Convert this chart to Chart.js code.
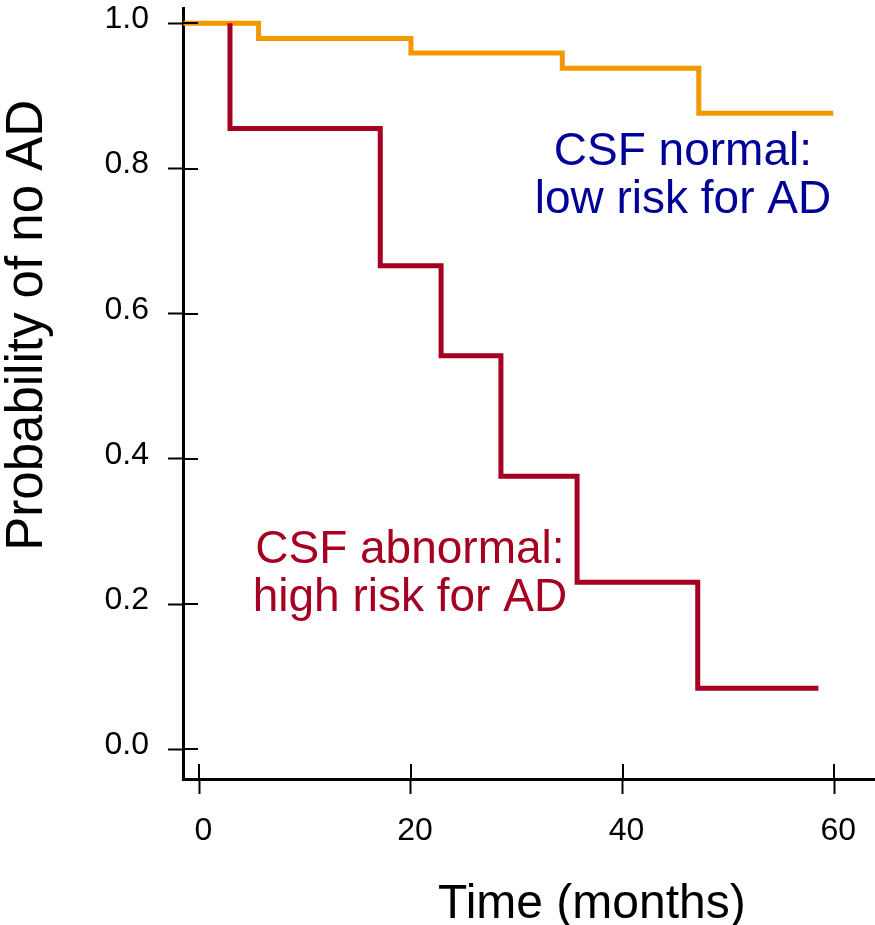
<!DOCTYPE html>
<html>
<head>
<meta charset="utf-8">
<script src="https://cdn.jsdelivr.net/npm/chart.js@4"></script>
<style>
  html, body { margin: 0; padding: 0; background: #ffffff; }
  #wrap { width: 875px; height: 925px; }
</style>
</head>
<body>
<div id="wrap"><canvas id="km-chart" width="875" height="925"></canvas></div>
<script>
// Kaplan-Meier estimates (time in months, probability of no AD)
const normalTimes = [-1.5, 5.6, 20.0, 34.3, 47.2, 59.9];
const normalValues = [1.0, 0.979, 0.959, 0.938, 0.876, 0.876];

const abnormalTimes = [2.9, 2.9, 17.1, 22.85, 28.5, 35.7, 47.1, 58.5];
const abnormalValues = [1.0, 0.855, 0.666, 0.542, 0.376, 0.230, 0.084, 0.084];

const xTicks = [0, 20, 40, 60];
const yTicks = [0.0, 0.2, 0.4, 0.6, 0.8, 1.0];

const xTitle = 'Time (months)';
const yTitle = 'Probability of no AD';

const normalLabel = ['CSF normal:', 'low risk for AD'];
const abnormalLabel = ['CSF abnormal:', 'high risk for AD'];

const ORANGE = '#f39800';
const RED = '#a50021';
const BLUE = '#000099';
const FONT = "'Liberation Sans', Arial, sans-serif";

function toPoints(xs, ys) {
  return xs.map((x, i) => ({ x: x, y: ys[i] }));
}

// tick marks cross the axis: Chart.js draws the outer half, this adds the inner half
const innerTicks = {
  id: 'innerTicks',
  afterDraw(chart) {
    const ctx = chart.ctx;
    const area = chart.chartArea;
    const xs = chart.scales.x;
    const ys = chart.scales.y;
    ctx.save();
    ctx.strokeStyle = '#000';
    ctx.lineWidth = 2;
    ctx.beginPath();
    xTicks.forEach(v => {
      const px = Math.round(xs.getPixelForValue(v));
      ctx.moveTo(px, area.bottom);
      ctx.lineTo(px, area.bottom - 15);
    });
    yTicks.forEach(v => {
      const py = Math.round(ys.getPixelForValue(v));
      ctx.moveTo(area.left, py);
      ctx.lineTo(area.left + 15, py);
    });
    ctx.stroke();
    ctx.restore();
  }
};

// axis titles and curve labels
const textLayer = {
  id: 'textLayer',
  afterDraw(chart) {
    const ctx = chart.ctx;
    const xs = chart.scales.x;
    const ys = chart.scales.y;
    ctx.save();
    ctx.fillStyle = '#000';
    ctx.textBaseline = 'alphabetic';

    ctx.font = '48px ' + FONT;
    ctx.textAlign = 'center';
    ctx.fillText(xTitle, xs.getPixelForValue(37.1), 918);

    ctx.save();
    ctx.translate(42, ys.getPixelForValue(0.584));
    ctx.rotate(-Math.PI / 2);
    ctx.font = '51px ' + FONT;
    ctx.fillText(yTitle, 0, 0);
    ctx.restore();

    ctx.font = '46px ' + FONT;
    ctx.fillStyle = BLUE;
    normalLabel.forEach((line, i) => {
      ctx.fillText(line, xs.getPixelForValue(45.7), ys.getPixelForValue(0.805) + i * 48);
    });
    ctx.fillStyle = RED;
    abnormalLabel.forEach((line, i) => {
      ctx.fillText(line, xs.getPixelForValue(19.9), ys.getPixelForValue(0.256) + i * 48);
    });
    ctx.restore();
  }
};

function noEdgePadding(scale) {
  scale.paddingTop = 0;
  scale.paddingBottom = 0;
  scale.paddingLeft = 0;
  scale.paddingRight = 0;
}

const ctx = document.getElementById('km-chart').getContext('2d');

new Chart(ctx, {
  type: 'line',
  data: {
    datasets: [
      {
        label: 'CSF abnormal',
        data: toPoints(abnormalTimes, abnormalValues),
        borderColor: RED,
        borderWidth: 5,
        stepped: 'before',
        pointRadius: 0,
        fill: false,
        borderJoinStyle: 'miter',
        borderCapStyle: 'butt'
      },
      {
        label: 'CSF normal',
        data: toPoints(normalTimes, normalValues),
        borderColor: ORANGE,
        borderWidth: 5,
        stepped: 'before',
        pointRadius: 0,
        fill: false,
        borderJoinStyle: 'miter',
        borderCapStyle: 'butt'
      }
    ]
  },
  options: {
    responsive: false,
    animation: false,
    devicePixelRatio: 1,
    layout: { padding: { top: 8, right: 0, bottom: 0, left: 0 } },
    plugins: {
      legend: { display: false },
      tooltip: { enabled: false }
    },
    scales: {
      x: {
        type: 'linear',
        min: -1.54,
        max: 63.85,
        afterBuildTicks: scale => { scale.ticks = xTicks.map(v => ({ value: v })); },
        afterFit: scale => { scale.height = 146; noEdgePadding(scale); },
        border: { display: true, color: '#000', width: 3 },
        grid: { display: true, drawOnChartArea: false, drawTicks: true, tickLength: 15, tickWidth: 2, tickColor: '#000' },
        ticks: {
          color: '#000',
          font: { family: FONT, size: 32 },
          padding: 18,
          maxRotation: 0,
          labelOffset: 4,
          callback: v => String(v)
        }
      },
      y: {
        type: 'linear',
        min: -0.0409,
        max: 1.0211,
        afterBuildTicks: scale => { scale.ticks = yTicks.map(v => ({ value: v })); },
        afterFit: scale => { scale.width = 183; noEdgePadding(scale); },
        border: { display: true, color: '#000', width: 3 },
        grid: { display: true, drawOnChartArea: false, drawTicks: true, tickLength: 15, tickWidth: 2, tickColor: '#000' },
        ticks: {
          color: '#000',
          font: { family: FONT, size: 32 },
          padding: 19,
          labelOffset: -4,
          callback: v => v.toFixed(1)
        }
      }
    }
  },
  plugins: [innerTicks, textLayer]
});
</script>
</body>
</html>
